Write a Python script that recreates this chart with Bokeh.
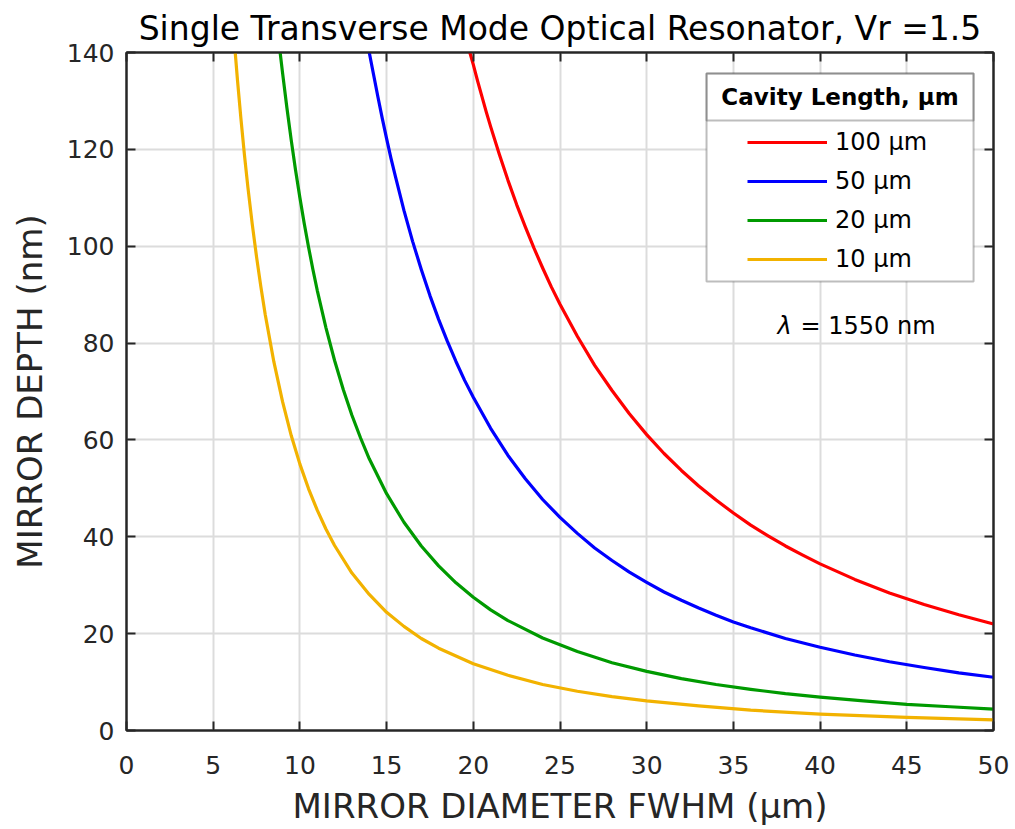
from bokeh.plotting import figure
from bokeh.models import (Legend, LegendItem, Label, LinearAxis, FixedTicker,
                          BoxAnnotation, Range1d)
from bokeh.embed import file_html
from bokeh.resources import INLINE

# ---- data ----
red_x = [19.8, 20, 20.25, 20.5, 20.75, 21, 21.5, 22, 22.5, 23, 23.5, 24, 24.5, 25, 26, 27, 28, 29, 30,
         31, 32, 33, 34, 35, 36, 37, 38, 39, 40, 42, 44, 46, 48, 50]
red_y = [140, 137.5, 134.1, 130.9, 127.7, 124.7, 119.0, 113.6, 108.6, 104.0, 99.6, 95.5, 91.6, 88.0,
         81.4, 75.4, 70.2, 65.4, 61.1, 57.2, 53.7, 50.5, 47.6, 44.9, 42.4, 40.2, 38.1, 36.2, 34.4,
         31.2, 28.4, 26.0, 23.9, 22.0]

blue_x = [14.0, 14.25, 14.5, 14.75, 15, 15.25, 15.5, 16, 16.5, 17, 17.5, 18, 18.5, 19, 19.5, 20, 21,
          22, 23, 24, 25, 26, 27, 28, 29, 30, 31, 32, 33, 34, 35, 36, 38, 40, 42, 44, 46, 48, 50]
blue_y = [140, 135.4, 130.8, 126.4, 122.2, 118.2, 114.5, 107.4, 101.0, 95.2, 89.8, 84.9, 80.4, 76.2,
          72.3, 68.8, 62.4, 56.8, 52.0, 47.7, 44.0, 40.7, 37.7, 35.1, 32.7, 30.6, 28.6, 26.9, 25.3,
          23.8, 22.4, 21.2, 19.0, 17.2, 15.6, 14.2, 13.0, 11.9, 11.0]

green_x = [8.86, 9, 9.25, 9.5, 9.75, 10, 10.25, 10.5, 10.75, 11, 11.5, 12, 12.5, 13, 13.5, 14, 15,
           16, 17, 18, 19, 20, 21, 22, 24, 26, 28, 30, 32, 34, 36, 38, 40, 42.5, 45, 47.5, 50]
green_y = [140, 135.8, 128.6, 121.9, 115.7, 110.0, 104.7, 99.8, 95.2, 90.9, 83.2, 76.4, 70.4, 65.1,
           60.4, 56.1, 48.9, 43.0, 38.1, 34.0, 30.5, 27.5, 24.9, 22.7, 19.1, 16.3, 14.0, 12.2, 10.7,
           9.5, 8.5, 7.6, 6.9, 6.1, 5.4, 4.9, 4.4]

yellow_x = [6.27, 6.4, 6.6, 6.8, 7, 7.25, 7.5, 7.75, 8, 8.5, 9, 9.5, 10, 10.5, 11, 11.5, 12, 13, 14,
            15, 16, 17, 18, 20, 22, 24, 26, 28, 30, 33, 36, 40, 45, 50]
yellow_y = [140, 134.3, 126.3, 118.9, 112.2, 104.6, 97.8, 91.6, 85.9, 76.1, 67.9, 60.9, 55.0, 49.9,
            45.5, 41.6, 38.2, 32.5, 28.1, 24.4, 21.5, 19.0, 17.0, 13.8, 11.4, 9.5, 8.1, 7.0, 6.1,
            5.1, 4.2, 3.4, 2.7, 2.2]

series_labels = ["100 µm", "50 µm", "20 µm", "10 µm"]
x_ticks = [0, 5, 10, 15, 20, 25, 30, 35, 40, 45, 50]
y_ticks = [0, 20, 40, 60, 80, 100, 120, 140]

FONT = "DejaVu Sans"
AX = "#262626"

p = figure(width=1015, height=829, output_backend="svg", toolbar_location=None,
           x_range=Range1d(0, 50), y_range=Range1d(0, 140),
           min_border_left=126, min_border_right=22, min_border_top=52,
           min_border_bottom=99, background_fill_color="white",
           border_fill_color="white")

p.title.text = "Single Transverse Mode Optical Resonator, Vr =1.5"
p.title.align = "center"
p.title.text_font = FONT
p.title.text_font_size = "33px"
p.title.text_font_style = "normal"
p.title.text_color = "black"
p.title.standoff = 10

p.outline_line_color = AX
p.outline_line_width = 2

for ax, ticks in ((p.xaxis[0], x_ticks), (p.yaxis[0], y_ticks)):
    ax.ticker = FixedTicker(ticks=ticks)
    ax.axis_line_color = AX
    ax.axis_line_width = 2
    ax.major_tick_line_color = AX
    ax.major_tick_line_width = 2
    ax.major_tick_in = 9
    ax.major_tick_out = 0
    ax.minor_tick_line_color = None
    ax.major_label_text_font = FONT
    ax.major_label_text_font_size = "25px"
    ax.major_label_text_color = AX
    ax.axis_label_text_font = FONT
    ax.axis_label_text_font_size = "34px"
    ax.axis_label_text_font_style = "normal"
    ax.axis_label_text_color = AX

p.xaxis.axis_label = "MIRROR DIAMETER FWHM (µm)"
p.yaxis.axis_label = "MIRROR DEPTH (nm)"
p.xaxis.major_label_standoff = 25
p.yaxis.major_label_standoff = 12
p.xaxis.axis_label_standoff = 9
p.yaxis.axis_label_standoff = 14

for loc, ticks in (("above", x_ticks), ("right", y_ticks)):
    a = LinearAxis(ticker=FixedTicker(ticks=ticks), major_label_text_color=None,
                   major_label_text_font_size="1px",
                   major_label_standoff=0, axis_line_color=AX, axis_line_width=2,
                   major_tick_line_color=AX, major_tick_line_width=2,
                   major_tick_in=9, major_tick_out=0, minor_tick_line_color=None)
    p.add_layout(a, loc)

p.xgrid.ticker = FixedTicker(ticks=x_ticks)
p.ygrid.ticker = FixedTicker(ticks=y_ticks)
p.xgrid.grid_line_color = "#dcdcdc"
p.ygrid.grid_line_color = "#dcdcdc"
p.xgrid.grid_line_width = 2
p.ygrid.grid_line_width = 2

colors = ["#ff0000", "#0000ff", "#009a00", "#f2b200"]
xs = [red_x, blue_x, green_x, yellow_x]
ys = [red_y, blue_y, green_y, yellow_y]
renderers = []
for x, y, c in zip(xs, ys, colors):
    renderers.append(p.line(x, y, line_color=c, line_width=3.2, line_join="round"))

# legend frame
p.add_layout(BoxAnnotation(left=33.45, right=48.85, bottom=92.71, top=135.66,
                           fill_color="white", fill_alpha=1.0,
                           line_color=AX, line_width=2))
p.add_layout(BoxAnnotation(left=33.45, right=48.85, bottom=125.96, top=135.66,
                           fill_alpha=0.0, line_color=AX, line_width=2))
p.add_layout(Label(x=41.15, y=130.8, text="Cavity Length, µm", text_align="center",
                   text_baseline="middle", text_font=FONT, text_font_size="23px",
                   text_font_style="bold", text_color="black"))

legend = Legend(items=[LegendItem(label=l, renderers=[r]) for l, r in zip(series_labels, renderers)],
                location=(621, 457), padding=0, margin=0, border_line_alpha=0,
                background_fill_alpha=0, label_text_font=FONT,
                label_text_font_size="24px", label_text_color="black",
                glyph_width=80, glyph_height=28, label_height=28, spacing=11,
                label_standoff=8)
p.add_layout(legend)

p.add_layout(Label(x=37.54, y=83.6, text="λ", text_baseline="middle",
                   text_font=FONT, text_font_size="24px", text_font_style="italic",
                   text_color="black"))
p.add_layout(Label(x=38.87, y=83.6, text="= 1550 nm", text_baseline="middle",
                   text_font=FONT, text_font_size="24px", text_color="black"))

open("out.html", "w").write(file_html(p, INLINE))
